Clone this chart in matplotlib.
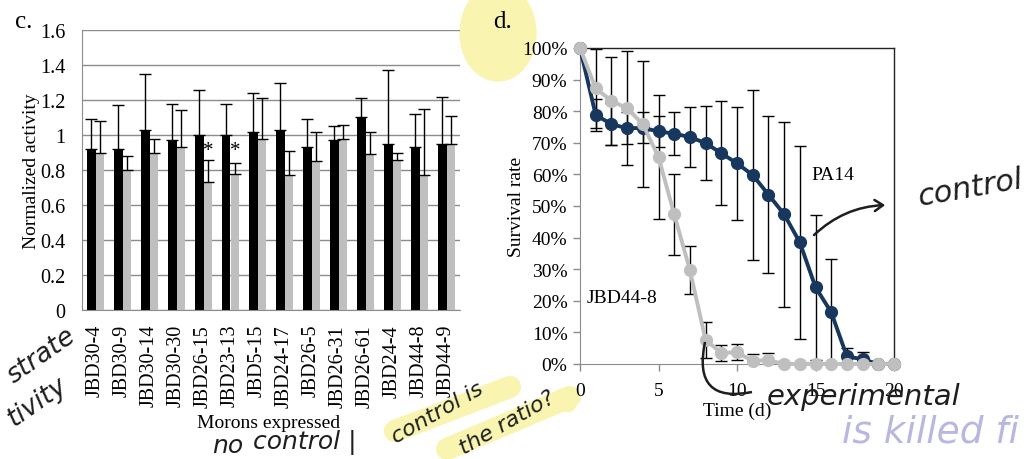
import numpy as np
import matplotlib.pyplot as plt
from matplotlib.lines import Line2D
from matplotlib.patches import FancyArrowPatch, PathPatch, Ellipse
from matplotlib.path import Path

plt.rcParams['font.family'] = ['Liberation Serif', 'DejaVu Serif']

# ---- panel c data ----
morons = ['JBD30-4', 'JBD30-9', 'JBD30-14', 'JBD30-30', 'JBD26-15', 'JBD23-13', 'JBD5-15',
          'JBD24-17', 'JBD26-5', 'JBD26-31', 'JBD26-61', 'JBD24-4', 'JBD44-8', 'JBD44-9']
act_black = [0.92, 0.92, 1.03, 0.97, 1.00, 1.00, 1.02, 1.03, 0.93, 0.97, 1.10, 0.95, 0.93, 0.95]
err_black = [0.17, 0.25, 0.32, 0.21, 0.26, 0.18, 0.22, 0.27, 0.16, 0.08, 0.11, 0.42, 0.19, 0.27]
act_grey = [0.90, 0.80, 0.90, 0.93, 0.73, 0.78, 0.98, 0.77, 0.85, 0.98, 0.89, 0.86, 0.77, 0.95]
err_grey = [0.18, 0.08, 0.08, 0.21, 0.13, 0.06, 0.23, 0.14, 0.17, 0.08, 0.13, 0.04, 0.38, 0.16]
starred = [4, 5]

# ---- panel d data ----
days = list(range(21))
pa14 = [100, 78.8, 75.9, 74.6, 74.7, 73.6, 72.9, 71.8, 69.9, 66.7, 63.5,
        59.8, 53.6, 47.4, 38.5, 24.3, 16.4, 2.4, 1.5, 0, 0]
pa14_err = [0, 5, 6.6, 5, 4.9, 4.8, 6.9, 9.5, 11.7, 16.5, 17.8,
            27, 24.9, 29.3, 30.6, 23, 16.7, 2.6, 2.2, 0, 0]
jbd = [100, 87.2, 83.3, 80.9, 75.9, 65.5, 47.4, 29.7, 7.6, 3.5, 3.7,
       1.0, 1.2, 0, 0, 0, 0, 0, 0, 0, 0]
jbd_err = [0, 12.5, 14, 18, 20, 19.5, 12.8, 7.6, 5.6, 2.6, 2.5,
           2.3, 2.2, 0, 0, 0, 0, 0, 0, 0, 0]

W, H = 1031, 460
fig = plt.figure(figsize=(W / 100, H / 100), dpi=100)


def px(x, y):
    return x / W, 1 - y / H


grid_col = '#8c8c8c'
navy = '#17375e'
light = '#bfbfbf'

# ================= panel c =================
axc = fig.add_axes([82 / W, 1 - 311 / H, (460 - 82) / W, (311 - 31) / H])
axc.set_facecolor('none')
x = np.arange(len(morons))
w = 0.3
axc.bar(x - 0.15, act_black, w, color='black', zorder=3)
axc.bar(x + 0.15, act_grey, w, color=light, zorder=3)
axc.errorbar(x - 0.15, act_black, yerr=[np.zeros(len(x)), err_black], fmt='none',
             ecolor='black', elinewidth=1, capsize=4, capthick=1, zorder=4)
axc.errorbar(x + 0.15, act_grey, yerr=[np.zeros(len(x)), err_grey], fmt='none',
             ecolor='black', elinewidth=1, capsize=4, capthick=1, zorder=4)
for i in starred:
    axc.text(x[i] + 0.17, 0.91, '*', ha='center', va='center', fontsize=15, zorder=5)
axc.set_xlim(-0.5, len(morons) - 0.5)
axc.set_ylim(0, 1.6)
axc.set_yticks(np.arange(0, 1.61, 0.2))
axc.set_yticklabels(['0', '0.2', '0.4', '0.6', '0.8', '1', '1.2', '1.4', '1.6'], fontsize=14.5)
axc.set_xticks(x)
axc.set_xticklabels(morons, rotation=90, fontsize=14.5)
axc.tick_params(length=0, pad=10)
axc.tick_params(axis='y', pad=12)
axc.yaxis.grid(True, color=grid_col, lw=1, zorder=0)
axc.set_axisbelow(True)
for s in ['top', 'right']:
    axc.spines[s].set_visible(False)
for s in ['left', 'bottom']:
    axc.spines[s].set_color(grid_col)
axc.set_ylabel('Normalized activity', fontsize=14, labelpad=0)
fig.text(*px(269, 424), 'Morons expressed', ha='center', va='center', fontsize=14)
fig.text(*px(24, 22), 'c.', ha='center', va='center', fontsize=18)

# ================= panel d =================
axd = fig.add_axes([580 / W, 1 - 365 / H, (894 - 580) / W, (365 - 49) / H])
axd.set_facecolor('none')
axd.errorbar(days, pa14, yerr=pa14_err, fmt='none', ecolor='black', elinewidth=1,
             capsize=4, capthick=1, zorder=2)
axd.errorbar(days, jbd, yerr=jbd_err, fmt='none', ecolor='black', elinewidth=1,
             capsize=4, capthick=1, zorder=2)
axd.plot(days, pa14, color=navy, lw=2.8, marker='o', ms=8.5, zorder=3, clip_on=False)
axd.plot(days, jbd, color=light, lw=2.8, marker='o', ms=8.5, zorder=4, clip_on=False)
axd.set_xlim(0, 20)
axd.set_ylim(0, 100)
axd.set_xticks([0, 5, 10, 15, 20])
axd.set_yticks(np.arange(0, 101, 10))
axd.set_yticklabels([f'{v}%' for v in range(0, 101, 10)], fontsize=14)
axd.set_xticklabels(['0', '5', '10', '15', '20'], fontsize=14)
axd.tick_params(direction='out', length=5, color=grid_col, width=1, pad=4)
axd.tick_params(axis='x', pad=8)
for s in ['left', 'bottom']:
    axd.spines[s].set_color(grid_col)
for s in ['top', 'right']:
    axd.spines[s].set_color('#222222')
    axd.spines[s].set_linewidth(1)
axd.set_ylabel('Survival rate', fontsize=14, labelpad=-2)
axd.set_xlabel('Time (d)', fontsize=14, labelpad=2)
axd.text(16.1, 60, 'PA14', fontsize=14, ha='center', va='center')
axd.text(2.7, 21, 'JBD44-8', fontsize=14, ha='center', va='center')
fig.text(*px(503, 22), 'd.', ha='center', va='center', fontsize=18)

# ================= handwritten notes =================
hl = '#f9f5b0'
hand = dict(family='DejaVu Sans', style='italic', color='#1e1e1e')
# yellow highlights
fig.add_artist(Ellipse(px(498, 34), 76 / W, 96 / H, transform=fig.transFigure,
                       color=hl, zorder=-2))
fig.add_artist(Line2D(*zip(px(395, 432), px(510, 388)), lw=16, color=hl,
                      solid_capstyle='round', zorder=-2))
fig.add_artist(Line2D(*zip(px(447, 450), px(570, 398)), lw=16, color=hl,
                      solid_capstyle='round', zorder=-2))
fig.add_artist(Line2D(*zip(px(562, 398), px(568, 405)), lw=12, color=hl,
                      solid_capstyle='round', zorder=-2))

fig.text(*px(2, 356), 'strate', ha='left', va='center', rotation=35, fontsize=19, **hand)
fig.text(*px(2, 402), 'tivity', ha='left', va='center', rotation=35, fontsize=19, **hand)
fig.text(*px(228, 446), 'no', ha='center', va='center', fontsize=18, **hand)
fig.text(*px(305, 443), 'control |', ha='center', va='center', fontsize=18, **hand)
fig.text(*px(437, 413), 'control is', ha='center', va='center', rotation=30, fontsize=16, **hand)
fig.text(*px(507, 423), 'the ratio?', ha='center', va='center', rotation=30, fontsize=16, **hand)
fig.text(*px(970, 188), 'control', ha='center', va='center', rotation=10, fontsize=22, **hand)
fig.text(*px(864, 397), 'experimental', ha='center', va='center', fontsize=21, **hand)
fig.text(*px(842, 433), 'is killed fi', ha='left', va='center', fontsize=27,
         family='DejaVu Sans', style='italic', color='#b9b6e2')

arrow = FancyArrowPatch(px(812, 238), px(888, 206), transform=fig.transFigure,
                        arrowstyle='->,head_length=6,head_width=4',
                        connectionstyle='arc3,rad=-0.2', lw=1.8, color='#1e1e1e')
fig.add_artist(arrow)
bracket = Path([px(705, 343), px(692, 405), px(752, 393)],
               [Path.MOVETO, Path.CURVE3, Path.CURVE3])
fig.add_artist(PathPatch(bracket, transform=fig.transFigure, fill=False,
                         lw=1.8, color='#1e1e1e'))

fig.savefig('out.png', dpi=100)
